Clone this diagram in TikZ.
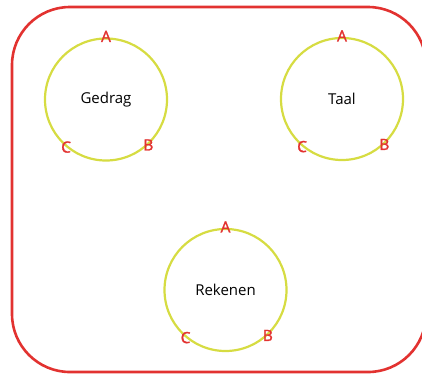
\documentclass[tikz,border=0pt]{standalone}
\usepackage{fontspec}
\setmainfont{Open Sans}
\newfontfamily\letterfont[FakeBold=1.6]{Open Sans}
\definecolor{frame}{RGB}{226,50,48}
\definecolor{ring}{RGB}{214,220,66}
\tikzset{
  area/.style={circle, draw=ring, line width=2.2pt, minimum size=122pt, inner sep=0pt, font=\fontsize{15}{18}\selectfont},
  letter/.style={text=frame, font=\letterfont\fontsize{15.5}{18}\selectfont, inner sep=0pt},
}
\begin{document}
\begin{tikzpicture}[x=1pt, y=-1pt]
  \useasboundingbox (0,0) rectangle (422,376);
  \clip (0,0) rectangle (422,376);
  % outer frame
  \draw[frame, line width=2.6pt, rounded corners=58pt] (12,7) rectangle (426,372);
  % the three areas
  \node[area] (gedrag) at (106,99.5) {Gedrag};
  \node[area] (taal) at (342,99) {Taal};
  \node[area] (rekenen) at (225.5,290) {Rekenen};
  % letters on each ring
  \foreach \d in {gedrag,taal,rekenen}{
    \node[letter] (\d-A) at ([yshift=1pt]\d.90) {A};
    \node[letter] (\d-B) at (\d.-47) {B};
    \node[letter] (\d-C) at (\d.-130) {C};
  }
\end{tikzpicture}
\end{document}
